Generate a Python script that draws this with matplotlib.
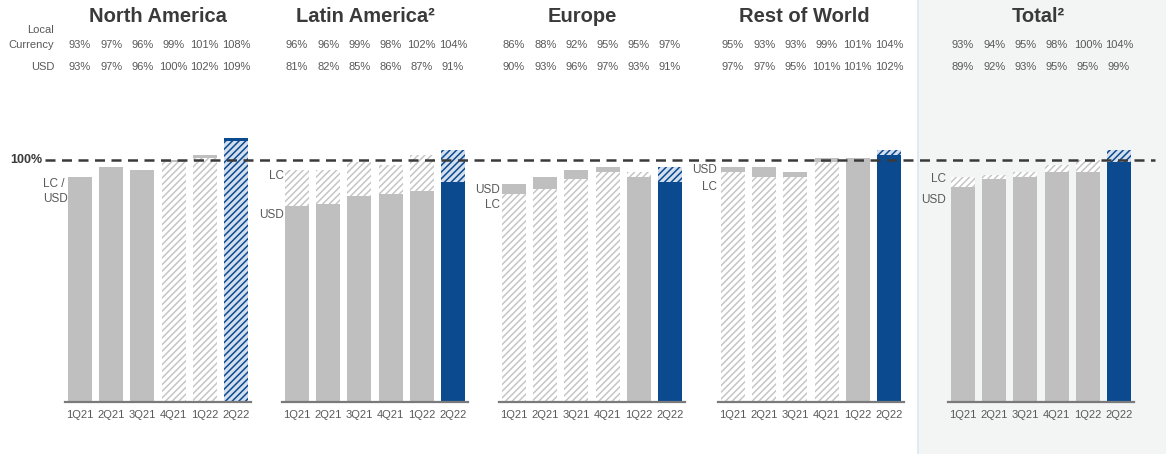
import matplotlib
matplotlib.use("Agg")
import matplotlib.pyplot as plt
from matplotlib.patches import Rectangle

plt.rcParams['font.family'] = ['Liberation Sans', 'DejaVu Sans']
plt.rcParams['hatch.linewidth'] = 1.1

#- data: index values per region, local currency (LC) and USD
regions = ['North America', 'Latin America\u00b2', 'Europe', 'Rest of World', 'Total\u00b2']
quarters = ['1Q21', '2Q21', '3Q21', '4Q21', '1Q22', '2Q22']

na_lc = [93, 97, 96, 99, 101, 108]
na_usd = [93, 97, 96, 100, 102, 109]
la_lc = [96, 96, 99, 98, 102, 104]
la_usd = [81, 82, 85, 86, 87, 91]
eu_lc = [86, 88, 92, 95, 95, 97]
eu_usd = [90, 93, 96, 97, 93, 91]
rw_lc = [95, 93, 93, 99, 101, 104]
rw_usd = [97, 97, 95, 101, 101, 102]
tot_lc = [93, 94, 95, 98, 100, 104]
tot_usd = [89, 92, 93, 95, 95, 99]

lc_all = [na_lc, la_lc, eu_lc, rw_lc, tot_lc]
usd_all = [na_usd, la_usd, eu_usd, rw_usd, tot_usd]

#- layout (pixels)
W, H = 1166, 454
base_px = 402.0
px_per_pct = 2.42
group_start = [80, 297, 514, 733, 963]
step = 31.2
bar_w = 24
header_x = [158, 365, 582, 804, 1038]

gray = '#bfbfbf'
blue = '#0b4a8f'
hatch_gray = '#c6c6c6'
txt = '#595959'
dark = '#3a3a3a'


def yv(p):
    # pixel row -> data value
    return (base_px - p) / px_per_pct


fig = plt.figure(figsize=(W / 100, H / 100), dpi=100)
fig.patches.append(Rectangle((918 / W, 0), (W - 918) / W, 1, transform=fig.transFigure,
                             facecolor='#f3f4f4', edgecolor='none', zorder=-2))
fig.lines.append(plt.Line2D([918 / W, 918 / W], [0, 1], transform=fig.transFigure,
                            color='#dbe7f0', lw=1.2, zorder=-1))

ax = fig.add_axes([0, 1 - base_px / H, 1, base_px / H])
ax.patch.set_alpha(0)
ax.set_xlim(0, W)
ax.set_ylim(0, base_px / px_per_pct)
for s in ax.spines.values():
    s.set_visible(False)
ax.set_yticks([])

ticks = []
ticklabels = []
for g in range(5):
    xs = [group_start[g] + i * step for i in range(6)]
    for i in range(6):
        lc = lc_all[g][i]
        usd = usd_all[g][i]
        x = xs[i]
        c = blue if i == 5 else gray
        if i == 5:
            hfc, hec = '#d3dfee', blue
        else:
            hfc, hec = 'white', hatch_gray
        if usd <= lc:
            ax.bar(x, usd, width=bar_w, color=c, lw=0, zorder=2)
            if lc > usd:
                ax.bar(x, lc - usd, bottom=usd, width=bar_w, facecolor=hfc,
                       edgecolor=hec, hatch='/////', lw=0, zorder=2)
        else:
            ax.bar(x, lc, width=bar_w, facecolor=hfc, edgecolor=hec,
                   hatch='/////', lw=0, zorder=2)
            ax.bar(x, usd - lc, bottom=lc, width=bar_w, color=c, lw=0, zorder=2)
        ax.text(x, yv(45), '%d%%' % lc, ha='center', va='center', fontsize=8, color=txt)
        ax.text(x, yv(67), '%d%%' % usd, ha='center', va='center', fontsize=8, color=txt)
        ticks.append(x)
        ticklabels.append(quarters[i])
    ax.plot([xs[0] - 15, xs[-1] + 15], [0, 0], color='#7a7a7a', lw=1.6,
            clip_on=False, zorder=3)
    ax.text(header_x[g], yv(17), regions[g], ha='center', va='center',
            fontsize=14.5, fontweight='bold', color=dark)

ax.set_xticks(ticks, ticklabels)
ax.tick_params(axis='x', length=0, pad=6, labelsize=8, labelcolor=txt)

#- 100% reference line
ax.plot([45, 1155], [100, 100], color=dark, lw=1.8, ls=(0, (4, 2.6)), zorder=4)
ax.text(10, 100, '100%', ha='left', va='center', fontsize=9, fontweight='bold', color=dark)

#- row labels
ax.text(54, yv(30), 'Local', ha='right', va='center', fontsize=8, color=txt)
ax.text(54, yv(45), 'Currency', ha='right', va='center', fontsize=8, color=txt)
ax.text(54, yv(67), 'USD', ha='right', va='center', fontsize=8, color=txt)

#- bar annotations
ax.text(43, yv(184), 'LC /', ha='left', va='center', fontsize=8.5, color=txt)
ax.text(43, yv(199), 'USD', ha='left', va='center', fontsize=8.5, color=txt)
ax.text(284, yv(176), 'LC', ha='right', va='center', fontsize=8.5, color=txt)
ax.text(284, yv(215), 'USD', ha='right', va='center', fontsize=8.5, color=txt)
ax.text(500, yv(190), 'USD', ha='right', va='center', fontsize=8.5, color=txt)
ax.text(500, yv(205), 'LC', ha='right', va='center', fontsize=8.5, color=txt)
ax.text(717, yv(170), 'USD', ha='right', va='center', fontsize=8.5, color=txt)
ax.text(717, yv(187), 'LC', ha='right', va='center', fontsize=8.5, color=txt)
ax.text(946, yv(179), 'LC', ha='right', va='center', fontsize=8.5, color=txt)
ax.text(946, yv(200), 'USD', ha='right', va='center', fontsize=8.5, color=txt)

fig.savefig('out.png', dpi=100)
